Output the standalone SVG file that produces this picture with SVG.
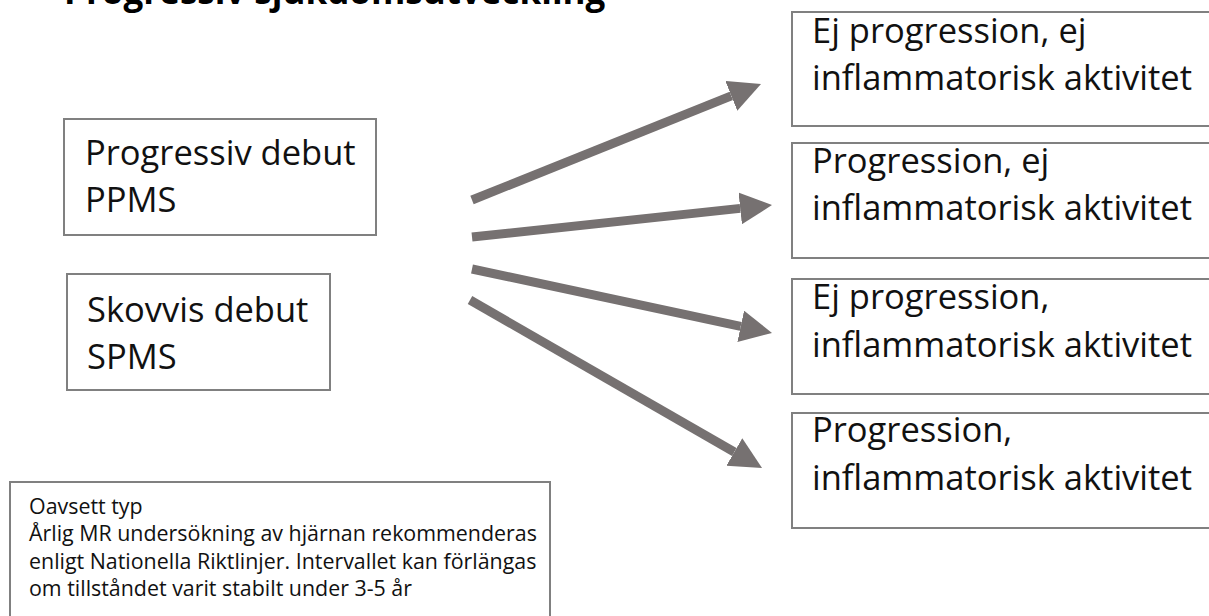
<svg xmlns="http://www.w3.org/2000/svg" width="1209" height="616" viewBox="0 0 1209 616">
<style>
.box{fill:#ffffff;stroke:#808080;stroke-width:2}
.t{font-family:"Open Sans","Noto Sans",sans-serif;fill:#111111;font-size:34.5px}
.s{font-family:"Open Sans","Noto Sans",sans-serif;fill:#111111;font-size:21.4px}
.title{font-family:"Open Sans","Noto Sans",sans-serif;font-weight:bold;fill:#000000;font-size:35px}
.arr{stroke:#767171;stroke-width:9;fill:none;marker-end:url(#head)}
</style>
<defs>
<marker id="head" markerUnits="userSpaceOnUse" markerWidth="34" markerHeight="34" refX="0" refY="16" orient="auto" viewBox="0 0 34 34">
<path d="M0,0 L32,16 L0,32 Z" fill="#767171"/>
</marker>
</defs>
<rect width="1209" height="616" fill="#ffffff"/>
<g id="title"><text class="title" x="64" y="4">Progressiv sjukdomsutveckling</text></g>
<g id="ppms">
<rect class="box" x="64" y="119" width="312" height="116"/>
<text class="t" x="85" y="165">Progressiv debut</text>
<text class="t" x="85" y="212">PPMS</text>
</g>
<g id="spms">
<rect class="box" x="67" y="274" width="263" height="116"/>
<text class="t" x="87" y="322">Skovvis debut</text>
<text class="t" x="87" y="369">SPMS</text>
</g>
<g id="out1">
<rect class="box" x="792" y="12" width="425" height="114"/>
<text class="t" x="812" y="43">Ej progression, ej</text>
<text class="t" x="812" y="90">inflammatorisk aktivitet</text>
</g>
<g id="out2">
<rect class="box" x="792" y="143" width="425" height="115"/>
<text class="t" x="812" y="173">Progression, ej</text>
<text class="t" x="812" y="220">inflammatorisk aktivitet</text>
</g>
<g id="out3">
<rect class="box" x="792" y="279" width="425" height="115"/>
<text class="t" x="812" y="309">Ej progression,</text>
<text class="t" x="812" y="357">inflammatorisk aktivitet</text>
</g>
<g id="out4">
<rect class="box" x="792" y="413" width="425" height="115"/>
<text class="t" x="812" y="442">Progression,</text>
<text class="t" x="812" y="490">inflammatorisk aktivitet</text>
</g>
<g id="note">
<rect class="box" x="10" y="482" width="540" height="150"/>
<text class="s" x="29" y="514">Oavsett typ</text>
<text class="s" x="29" y="541">Årlig MR undersökning av hjärnan rekommenderas</text>
<text class="s" x="29" y="569">enligt Nationella Riktlinjer. Intervallet kan förlängas</text>
<text class="s" x="29" y="596">om tillståndet varit stabilt under 3-5 år</text>
</g>
<g id="connectors">
<line class="arr" x1="472" y1="200" x2="731.3" y2="95.9"/>
<line class="arr" x1="472" y1="237" x2="740.2" y2="208.4"/>
<line class="arr" x1="472" y1="269" x2="740.7" y2="326.3"/>
<line class="arr" x1="470" y1="300" x2="734.3" y2="452"/>
</g>
</svg>
